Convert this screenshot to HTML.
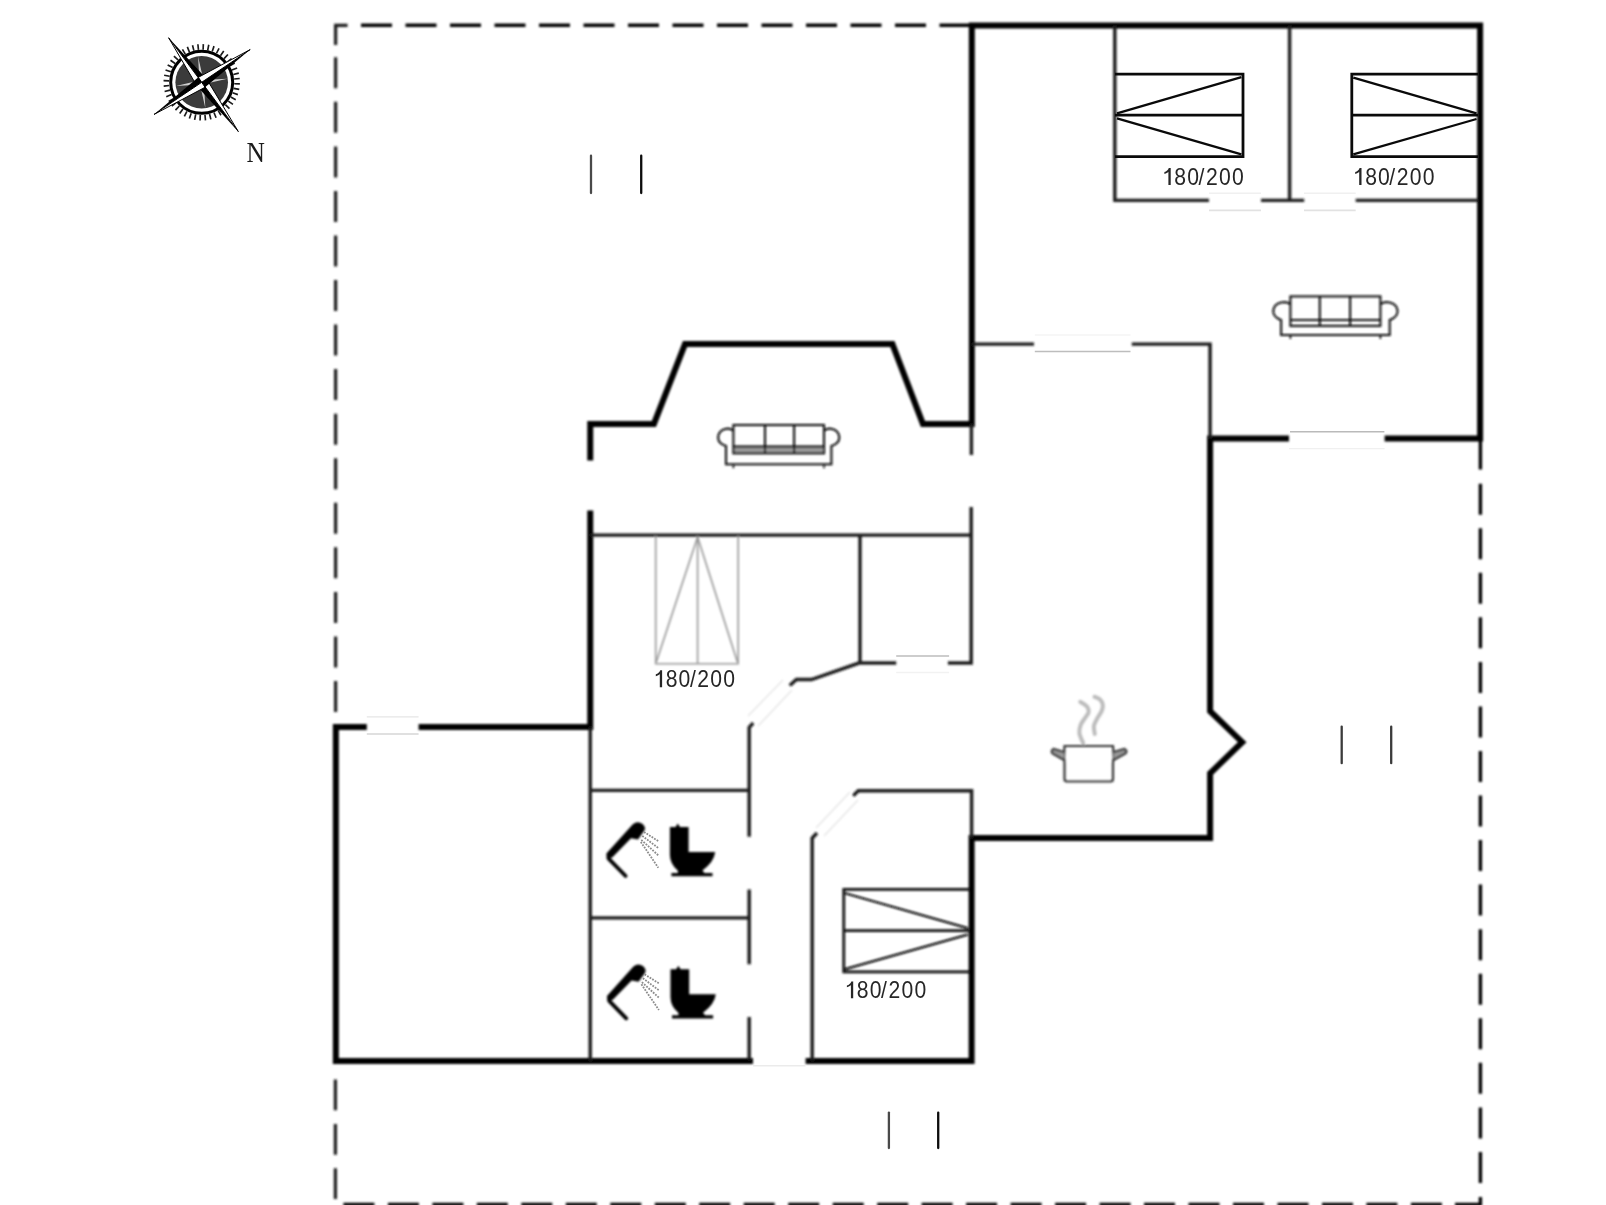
<!DOCTYPE html>
<html><head><meta charset="utf-8"><style>
html,body{margin:0;padding:0;background:#fff;overflow:hidden;}
svg{display:block;position:absolute;left:0;top:0;}
</style></head><body>
<svg width="1606" height="1205" viewBox="0 0 1606 1205">
<defs>
<filter id="b1" filterUnits="userSpaceOnUse" x="0" y="0" width="1606" height="1205"><feGaussianBlur stdDeviation="0.95"/></filter>
<filter id="b2" filterUnits="userSpaceOnUse" x="0" y="0" width="1606" height="1205"><feGaussianBlur stdDeviation="0.55"/></filter>
</defs>
<g filter="url(#b1)">
<path d="M361.0 25.2H392.0M405.5 25.2H436.5M450.0 25.2H481.0M494.5 25.2H525.5M539.0 25.2H570.0M583.5 25.2H614.5M628.0 25.2H659.0M672.5 25.2H703.5M717.0 25.2H748.0M761.5 25.2H792.5M806.0 25.2H837.0M850.5 25.2H881.5M895.0 25.2H926.0M939.5 25.2H971.8M343.4 1204.4H374.4M387.9 1204.4H418.9M432.4 1204.4H463.4M476.8 1204.4H507.8M521.3 1204.4H552.3M565.8 1204.4H596.8M610.3 1204.4H641.3M654.8 1204.4H685.8M699.2 1204.4H730.2M743.7 1204.4H774.7M788.2 1204.4H819.2M832.7 1204.4H863.7M877.2 1204.4H908.2M921.6 1204.4H952.6M966.1 1204.4H997.1M1010.6 1204.4H1041.6M1055.1 1204.4H1086.1M1099.6 1204.4H1130.6M1144.0 1204.4H1175.0M1188.5 1204.4H1219.5M1233.0 1204.4H1264.0M1277.5 1204.4H1308.5M1322.0 1204.4H1353.0M1366.4 1204.4H1397.4M1410.9 1204.4H1441.9M1455 1204.4H1480.4V1197M1480.4 483.7V514.7M1480.4 528.2V559.2M1480.4 572.8V603.8M1480.4 617.3V648.3M1480.4 661.9V692.9M1480.4 706.5V737.5M1480.4 751.0V782.0M1480.4 795.5V826.5M1480.4 840.1V871.1M1480.4 884.6V915.6M1480.4 929.2V960.2M1480.4 973.8V1004.8M1480.4 1018.3V1049.3M1480.4 1062.8V1093.8M1480.4 1107.4V1138.4M1480.4 1152.0V1183.0M1480.4 438.5V469.5" stroke="#000" stroke-width="3.4" fill="none"/><path d="M335.6 57.3V88.3M335.6 101.8V132.8M335.6 146.4V177.4M335.6 190.9V221.9M335.6 235.5V266.5M335.6 280.1V311.1M335.6 324.6V355.6M335.6 369.1V400.1M335.6 413.7V444.7M335.6 458.2V489.2M335.6 502.8V533.8M335.6 547.3V578.3M335.6 591.9V622.9M335.6 636.4V667.4M335.6 681.0V712.0M347.6 25.3H335.6V45M335.4 1079.4V1110.2M335.4 1123.9V1154.7M335.4 1168.3V1199.1" stroke="#1e1e1e" stroke-width="3.2" fill="none"/><path d="M971.8 25.5H1480.1V441.5M971.8 22.5V426.9M1207.1 438.5H1289M1384.6 438.5H1483.1M1210.1 435.5V711.2L1242.2 742.2L1210.1 773.3V837.9H968.6M971.6 837.9V1063.9M332.85 1060.9H753M805.6 1060.9H974.6M335.85 724.0V1063.9M332.85 727.0H366.8M418.6 727.0H593.25M590.25 510.5V730.0M590.25 460.5V423.9H653.9L685 344.1H892.4L922.9 423.9H974.8" stroke="#050505" stroke-width="6.0" fill="none" stroke-linejoin="miter"/><path d="M1114.8 25.5V200.4M1113.2 200.4H1209M1261 200.4H1304.2M1289.6 25.5V200.4M1355.7 200.4H1478M971.8 344.1H1034M1131.8 344.1H1210.1V438.5M971.4 423.9V455M590.25 535.1H971.6M860 535.1V662.7L811.5 679.5H796.4L789.8 685.6M860 663H896.2M947.9 663H971.2V507M753.2 723L749.2 727.3V836.7M749.2 889.6V964.2M749.2 1017V1060M590.25 790.4H749.2M590.25 917.9H749.2M590.25 727.0V1060.9M817 833L812.2 838V1060.9M853.2 795.7L858.3 790.8H971.6V837.9" stroke="#1a1a1a" stroke-width="3.4" fill="none"/><path d="M783 680L748 716M792 690L758 726" stroke="#e4e4e4" stroke-width="1.3" fill="none"/><path d="M850 792L816 828M858 800L824 836" stroke="#e4e4e4" stroke-width="1.3" fill="none"/><g stroke="#0a0a0a" stroke-width="2.7" fill="none"><path d="M970 889.3H843.8V971.8H970"/><path d="M843.8 930.7H970"/><path d="M844.2 893L967.6 928.2M844.2 969.3L967.6 934.6" stroke-width="2.3"/></g><g stroke="#969696" stroke-width="1.6" fill="none"><path d="M655.7 536V663.7H738.2V536"/><path d="M697.6 536V663.7"/><path d="M697.6 537L656.3 662M697.6 537L737.4 662"/></g><g transform="translate(1290.4 296.4)" fill="none" stroke="#111" stroke-width="2.1"><rect x="0" y="0" width="90" height="29.5"/><path d="M29.4 0V29.5M59.7 0V29.5M0 23.6H90"/><path d="M0 8.0C-3 4.5 -16.200000000000003 4.5 -17.200000000000003 14.5C-17.200000000000003 19.5 -12.3 22.5 -9.3 23.5V38.6H99.3V23.5C102.3 22.5 107.2 19.5 107.2 14.5C106.2 4.5 93 4.5 90 8.0"/><path d="M0 38.6V42.6M90 38.6V42.6" stroke-width="1.6"/></g><g transform="translate(733.4 425)" fill="none" stroke="#111" stroke-width="2.1"><rect x="0" y="21.6" width="90.6" height="6.699999999999999" fill="#9a9a9a" stroke="none"/><rect x="0" y="0" width="90.6" height="28.3"/><path d="M31.6 0V28.3M60.7 0V28.3M0 21.6H90.6"/><path d="M0 5.9C-3 2.4000000000000004 -14.3 2.4000000000000004 -15.3 12.4C-15.3 17.4 -10.4 20 -7.4 21V39.3H98.0V21C101.0 20 105.9 17.4 105.9 12.4C104.9 2.4000000000000004 93.6 2.4000000000000004 90.6 5.9"/><path d="M0 39.3V43.3M90.6 39.3V43.3" stroke-width="1.6"/></g><defs><g id="bath"><path d="M625.6 876L608.6 858.6" stroke="#000" stroke-width="3.8" fill="none" stroke-linecap="round"/><path d="M606.6 858.5L606.4 853.6L632.6 824.4Q637.6 820.4 642.6 824Q646.2 827.4 644.4 830.6L638 839.4L631 838.2L612.2 857.4Z" fill="#000"/><path d="M669.9 827H675.5L677.8 823.4L680 827H688.6V852H715.2Q714 862 702.4 870.5L704.5 873H712.5V876.3H671.4V873H678L677.7 870.5Q670 864 669.9 855Z" fill="#000"/></g></defs><use href="#bath"/><use href="#bath" transform="translate(0.6 142.3)"/><g fill="none" stroke="#333" stroke-width="2.2"><path d="M1064.5 746H1113L1113.8 758C1113 760 1113 762 1113 764V779Q1113 781.5 1110.5 781.5H1067Q1064.5 781.5 1064.5 779V764C1064.5 762 1064.5 760 1064 758Z"/><path d="M1064 752L1053.5 749Q1050.5 750.5 1052.5 753.5L1064 760" fill="#999"/><path d="M1113.6 752L1124.5 749Q1127.8 750.5 1125.5 753.5L1113.6 760" fill="#999"/></g><path d="M1083.2 743.1C1082.6 741.5 1079.8 736.2 1079.4 733.2C1079.0 730.2 1079.8 727.4 1080.7 724.9C1081.6 722.4 1083.5 720.3 1084.8 718.2C1086.1 716.1 1088.2 714.3 1088.6 712.4C1089.0 710.5 1088.4 708.4 1087.0 706.6C1085.6 704.8 1081.4 702.6 1080.3 701.8" stroke="#bcbcbc" stroke-width="4" fill="none" stroke-linecap="round"/><path d="M1094.8 734.0C1094.7 732.6 1093.4 728.5 1093.9 725.7C1094.4 722.9 1096.5 719.9 1097.8 717.4C1099.1 714.9 1101.0 712.8 1101.8 710.7C1102.6 708.6 1103.1 706.8 1102.8 704.9C1102.5 703.0 1101.2 700.6 1099.8 699.3C1098.4 697.9 1095.4 697.2 1094.5 696.8" stroke="#bcbcbc" stroke-width="4" fill="none" stroke-linecap="round"/>
</g>
<g filter="url(#b2)">
<path d="M1209 193.3H1261" stroke="#f0f0f0" stroke-width="1.5" fill="none"/><path d="M1209 210.4H1261" stroke="#e2e2e2" stroke-width="1.6" fill="none"/><path d="M1304 193.3H1355.7" stroke="#f0f0f0" stroke-width="1.5" fill="none"/><path d="M1304 210.4H1355.7" stroke="#e2e2e2" stroke-width="1.6" fill="none"/><path d="M1034.8 351.6H1130.5" stroke="#bdbdbd" stroke-width="1.5" fill="none"/><path d="M1034.8 335H1130.5" stroke="#f4f4f4" stroke-width="1.4" fill="none"/><path d="M1290 431.7H1384.4" stroke="#bababa" stroke-width="1.5" fill="none"/><path d="M1289 448.6H1384.6" stroke="#f0f0f0" stroke-width="1.4" fill="none"/><path d="M366.8 716.9H418.6" stroke="#e6e6e6" stroke-width="1.4" fill="none"/><path d="M366.8 733.9H418.6" stroke="#d6d6d6" stroke-width="1.5" fill="none"/><path d="M896.2 655.9H949.1" stroke="#bcbcbc" stroke-width="1.5" fill="none"/><path d="M896.2 672.4H949.1" stroke="#f2f2f2" stroke-width="1.5" fill="none"/><path d="M753 1065.8H805.6" stroke="#ebebeb" stroke-width="1.4" fill="none"/><path d="M591 155.7V193" stroke="#4a4a4a" stroke-width="2.3" stroke-linecap="round" fill="none"/><path d="M641.2 155.7V193" stroke="#111" stroke-width="2.3" stroke-linecap="round" fill="none"/><path d="M1341.7 726.7V763.2" stroke="#3a3a3a" stroke-width="2.3" stroke-linecap="round" fill="none"/><path d="M1391.2 726.7V763.2" stroke="#3a3a3a" stroke-width="2.3" stroke-linecap="round" fill="none"/><path d="M888.9 1112.6V1148.1" stroke="#4a4a4a" stroke-width="2.3" stroke-linecap="round" fill="none"/><path d="M938.2 1112.6V1148.1" stroke="#111" stroke-width="2.3" stroke-linecap="round" fill="none"/><text transform="translate(1164.2 185.0) scale(0.9 1)" x="11.28 25.56 38.17 46.39 60.83 75.22" y="0" font-family="Liberation Sans, sans-serif" font-size="23.5" fill="#262626">80/200</text><path d="M1170.7 185.0V168.1H1168.8C1168.1 170.2 1166.5 171.5 1164.4 172.1V174.0C1166.3 173.6 1167.6 172.8 1168.4 171.8V185.0Z" fill="#262626"/><text transform="translate(1355.0 185.0) scale(0.9 1)" x="11.28 25.56 38.17 46.39 60.83 75.22" y="0" font-family="Liberation Sans, sans-serif" font-size="23.5" fill="#262626">80/200</text><path d="M1361.5 185.0V168.1H1359.6C1358.9 170.2 1357.3 171.5 1355.2 172.1V174.0C1357.1 173.6 1358.4 172.8 1359.2 171.8V185.0Z" fill="#262626"/><text transform="translate(655.6 687.2) scale(0.9 1)" x="11.28 25.56 38.17 46.39 60.83 75.22" y="0" font-family="Liberation Sans, sans-serif" font-size="23.5" fill="#262626">80/200</text><path d="M662.1 687.2V670.3H660.2C659.5 672.4 657.9 673.7 655.8 674.3V676.2C657.7 675.8 659.0 675.0 659.8 674.0V687.2Z" fill="#262626"/><text transform="translate(846.7 998.3) scale(0.9 1)" x="11.28 25.56 38.17 46.39 60.83 75.22" y="0" font-family="Liberation Sans, sans-serif" font-size="23.5" fill="#262626">80/200</text><path d="M853.2 998.3V981.4H851.3C850.6 983.5 849.0 984.8 846.9 985.4V987.3C848.8 986.9 850.1 986.1 850.9 985.1V998.3Z" fill="#262626"/><text x="246.5" y="162.3" font-family="Liberation Serif, serif" font-size="28.5" fill="#1a1a1a" textLength="18.4" lengthAdjust="spacingAndGlyphs">N</text><path d="M644 832L658.8 841.4M642.3 835.9L658.8 848.4M641.3 839.9L658.8 855.8M640.8 841.9L658.3 867.8" stroke="#8c8c8c" stroke-width="1.8" stroke-dasharray="1.8 1.2" fill="none"/><g transform="translate(0.6 142.3)"><path d="M644 832L658.8 841.4M642.3 835.9L658.8 848.4M641.3 839.9L658.8 855.8M640.8 841.9L658.3 867.8" stroke="#8c8c8c" stroke-width="1.8" stroke-dasharray="1.8 1.2" fill="none"/></g><g transform="translate(201.7 82.3)"><path d="M32.57 1.40L38.16 1.64M32.04 6.02L37.54 7.05M30.86 10.52L36.16 12.32M29.05 14.80L34.04 17.34M26.64 18.78L31.22 22.01M23.70 22.38L27.77 26.23M20.27 25.53L23.76 29.91M16.43 28.15L19.26 32.99M12.26 30.21L14.37 35.40M7.84 31.64L9.18 37.08M3.25 32.44L3.81 38.01M-1.40 32.57L-1.64 38.16M-6.02 32.04L-7.05 37.54M-10.52 30.86L-12.32 36.16M-14.80 29.05L-17.34 34.04M-18.78 26.64L-22.01 31.22M-22.38 23.70L-26.23 27.77M-25.53 20.27L-29.91 23.76M-28.15 16.43L-32.99 19.26M-30.21 12.26L-35.40 14.37M-31.64 7.84L-37.08 9.18M-32.44 3.25L-38.01 3.81M-32.57 -1.40L-38.16 -1.64M-32.04 -6.02L-37.54 -7.05M-30.86 -10.52L-36.16 -12.32M-29.05 -14.80L-34.04 -17.34M-26.64 -18.78L-31.22 -22.01M-23.70 -22.38L-27.77 -26.23M-20.27 -25.53L-23.76 -29.91M-16.43 -28.15L-19.26 -32.99M-12.26 -30.21L-14.37 -35.40M-7.84 -31.64L-9.18 -37.08M-3.25 -32.44L-3.81 -38.01M1.40 -32.57L1.64 -38.16M6.02 -32.04L7.05 -37.54M10.52 -30.86L12.32 -36.16M14.80 -29.05L17.34 -34.04M18.78 -26.64L22.01 -31.22M22.38 -23.70L26.23 -27.77M25.53 -20.27L29.91 -23.76M28.15 -16.43L32.99 -19.26M30.21 -12.26L35.40 -14.37M31.64 -7.84L37.08 -9.18M32.44 -3.25L38.01 -3.81" stroke="#1a1a1a" stroke-width="1.65"/><circle r="31" fill="#fff" stroke="#000" stroke-width="3"/><circle r="26.3" fill="#3a3a3a"/><path d="M0 0L2.18 -0.31L-3.62 -25.75L-2.18 0.31ZM0 0L0.31 2.18L25.75 -3.62L-0.31 -2.18ZM0 0L-2.18 0.31L3.62 25.75L2.18 -0.31ZM0 0L-0.31 -2.18L-25.75 3.62L0.31 2.18Z" fill="#cfcfcf"/><path d="M0 0L-4.82 3.58L36.67 49.37Z" fill="#000"/><path d="M0 0L4.82 -3.58L36.67 49.37Z" fill="#fff" stroke="#000" stroke-width="1.0" stroke-linejoin="round"/><path d="M0 0L4.82 -3.58L-33.09 -44.56Z" fill="#000"/><path d="M0 0L-4.82 3.58L-33.09 -44.56Z" fill="#fff" stroke="#000" stroke-width="1.0" stroke-linejoin="round"/><path d="M0 0L3.36 4.97L48.50 -32.71Z" fill="#000"/><path d="M0 0L-3.36 -4.97L48.50 -32.71Z" fill="#fff" stroke="#000" stroke-width="1.0" stroke-linejoin="round"/><path d="M0 0L-3.36 -4.97L-47.67 32.15Z" fill="#000"/><path d="M0 0L3.36 4.97L-47.67 32.15Z" fill="#fff" stroke="#000" stroke-width="1.0" stroke-linejoin="round"/></g>
</g>
<g>
<g stroke="#0a0a0a" stroke-width="2.8" fill="none"><path d="M1115 74.2H1243V156.6H1115"/><path d="M1115 115.2H1243"/><path d="M1117 113.3L1241.4 77.2M1117 118.3L1241.4 154.4" stroke-width="2.3"/></g><g stroke="#0a0a0a" stroke-width="2.8" fill="none"><path d="M1478 74.2H1351.8V156.6H1478"/><path d="M1351.8 115.2H1478"/><path d="M1353.3 77.7L1476.5 113.3M1353.3 154.4L1476.5 119" stroke-width="2.3"/></g>
</g>
</svg>
</body></html>
